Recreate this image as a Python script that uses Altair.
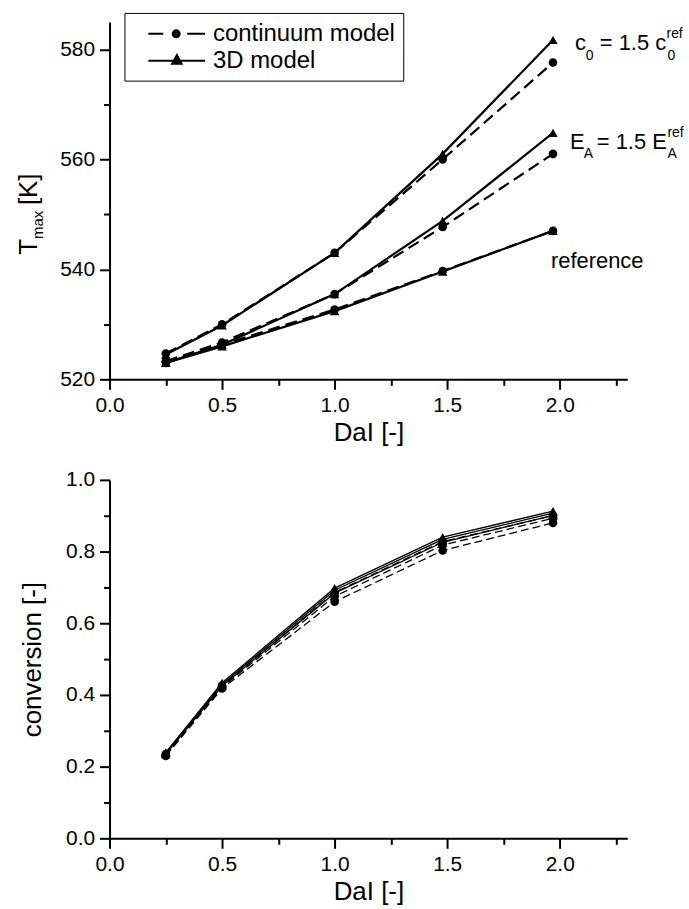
import altair as alt
import pandas as pd

FONT = "Liberation Sans"

# ---------------- data ----------------
dal = [0.25, 0.5, 1.0, 1.48, 1.97]
models = ["continuum model", "3D model"]
cases = ["reference", "EA", "c0"]

# T_max [K]
tmax_cont_ref = [523.0, 526.3, 532.7, 539.7, 547.0]
tmax_cont_ea = [523.3, 526.7, 535.5, 547.7, 561.0]
tmax_cont_c0 = [524.7, 530.0, 543.0, 560.0, 577.6]
tmax_3d_ref = [523.0, 526.0, 532.4, 539.6, 547.0]
tmax_3d_ea = [523.0, 526.3, 535.5, 548.8, 564.8]
tmax_3d_c0 = [524.5, 529.8, 543.0, 561.0, 581.7]

# conversion [-]
conv_cont_ref = [0.230, 0.418, 0.660, 0.803, 0.880]
conv_cont_ea = [0.232, 0.422, 0.675, 0.818, 0.893]
conv_cont_c0 = [0.235, 0.426, 0.686, 0.828, 0.900]
conv_3d_ref = [0.235, 0.425, 0.684, 0.826, 0.901]
conv_3d_ea = [0.238, 0.430, 0.692, 0.834, 0.907]
conv_3d_c0 = [0.240, 0.434, 0.698, 0.840, 0.913]

x_tick_values = [0.0, 0.25, 0.5, 0.75, 1.0, 1.25, 1.5, 1.75, 2.0, 2.25]
t_tick_values = [520, 530, 540, 550, 560, 570, 580]
c_tick_values = [0.0, 0.1, 0.2, 0.3, 0.4, 0.5, 0.6, 0.7, 0.8, 0.9, 1.0]


def long_frame(series):
    rows = []
    for case, model, values in series:
        for x, v in zip(dal, values):
            rows.append({"dal": x, "value": v, "model": model, "case": case})
    return pd.DataFrame(rows)


df_t = long_frame([
    ("reference", "continuum model", tmax_cont_ref),
    ("EA", "continuum model", tmax_cont_ea),
    ("c0", "continuum model", tmax_cont_c0),
    ("reference", "3D model", tmax_3d_ref),
    ("EA", "3D model", tmax_3d_ea),
    ("c0", "3D model", tmax_3d_c0),
])
df_c = long_frame([
    ("reference", "continuum model", conv_cont_ref),
    ("EA", "continuum model", conv_cont_ea),
    ("c0", "continuum model", conv_cont_c0),
    ("reference", "3D model", conv_3d_ref),
    ("EA", "3D model", conv_3d_ea),
    ("c0", "3D model", conv_3d_c0),
])

# ---------------- styling helpers ----------------
AX = dict(
    domainColor="black", domainWidth=2, tickColor="black", tickWidth=2,
    labelColor="black", labelFont=FONT, labelFontSize=21,
    titleFont=FONT, titleFontSize=26, titleFontWeight="normal",
    titleColor="black", grid=False, labelPadding=5,
    labelFlush=False, labelOverlap=False,
)

x_axis = alt.Axis(
    values=x_tick_values,
    labelExpr="datum.value % 0.5 == 0 ? format(datum.value, '.1f') : ''",
    tickSize={"condition": {"test": "datum.value % 0.5 == 0", "value": 10}, "value": 6},
    title="DaI [-]", titlePadding=4,
    **AX,
)
x_scale = alt.Scale(domain=[0, 2.3], nice=False, zero=False)

t_axis = alt.Axis(
    values=t_tick_values,
    labelExpr="datum.value % 20 == 0 ? datum.value : ''",
    tickSize={"condition": {"test": "datum.value % 20 == 0", "value": 10}, "value": 6},
    title=None,
    **AX,
)
t_scale = alt.Scale(domain=[520, 585], nice=False, zero=False)

c_axis = alt.Axis(
    values=c_tick_values,
    labelExpr="round(datum.value * 10) % 2 == 0 ? format(datum.value, '.1f') : ''",
    tickSize={"condition": {"test": "round(datum.value * 10) % 2 == 0", "value": 10}, "value": 6},
    title="conversion [-]", titlePadding=20,
    **AX,
)
c_scale = alt.Scale(domain=[0, 1], nice=False, zero=False)


# ---- legend symbols: short line with a marker (stroke-only paths, unit = 12 px) ----
def circle_path(cx, r):
    return (f"M{cx + r:.3f},0A{r:.3f},{r:.3f},0,1,1,{cx - r:.3f},0"
            f"A{r:.3f},{r:.3f},0,1,1,{cx + r:.3f},0Z")


def tri_path(cx, cy, k):
    hw, up, dn = 0.40 * k, 0.48 * k, 0.26 * k
    return (f"M{cx - hw:.3f},{cy + dn:.3f}L{cx:.3f},{cy - up:.3f}"
            f"L{cx + hw:.3f},{cy + dn:.3f}Z")


DOT_PATH = "M0.25,0H1.5M3.5,0H5.0" + "".join(
    circle_path(2.58, r / 12) for r in (0.6, 1.6, 2.6, 3.5))
TRI_PATH = "M0.25,0H5.0" + "".join(tri_path(2.64, 0.0, k) for k in (1.0, 0.66, 0.33))

legend = alt.Legend(
    title=None, orient="none", legendX=15, legendY=-9,
    strokeColor="black", padding=8, fillColor="white",
    labelFont=FONT, labelFontSize=24, labelColor="black", labelLimit=500,
    symbolSize=576, symbolStrokeWidth=2, symbolStrokeColor="black",
    symbolFillColor="black", symbolOpacity=1, labelOffset=55, rowPadding=2,
)

# ---------------- top chart ----------------
base_t = alt.Chart(df_t).encode(
    x=alt.X("dal:Q", scale=x_scale, axis=x_axis),
    y=alt.Y("value:Q", scale=t_scale, axis=t_axis),
    detail="case:N",
)
cont_t = base_t.transform_filter(alt.datum.model == "continuum model")
d3_t = base_t.transform_filter(alt.datum.model == "3D model")

# invisible layer that only carries the legend (line + marker symbols)
legend_layer = base_t.mark_point(filled=False, opacity=0, color="black").encode(
    shape=alt.Shape(
        "model:N",
        scale=alt.Scale(domain=models, range=[DOT_PATH, TRI_PATH]),
        legend=legend,
    ),
)

last_3d = d3_t.transform_filter(alt.datum.dal == 1.97)


def piece(case, text, dx, dy, size):
    return last_3d.transform_filter(alt.datum.case == case).mark_text(
        text=text, dx=dx, dy=dy, fontSize=size, font=FONT, color="black",
        align="left", baseline="alphabetic",
    )


ann = [
    piece("c0", "c", 22, 10, 22),
    piece("c0", "0", 33, 20, 14),
    piece("c0", "= 1.5 c", 47, 10, 22),
    piece("c0", "0", 115, 20, 14),
    piece("c0", "ref", 114, -2, 14),
    piece("EA", "E", 17, 16, 22),
    piece("EA", "A", 31, 25, 14),
    piece("EA", "= 1.5 E", 44, 16, 22),
    piece("EA", "A", 115, 25, 14),
    piece("EA", "ref", 115, 4, 14),
    piece("reference", "reference", -2, 37, 22),
]

title_df = pd.DataFrame({"k": [0]})


def ytitle(text, dx, dy, size):
    return alt.Chart(title_df).mark_text(
        text=text, angle=270, align="left", baseline="alphabetic",
        dx=dx, dy=dy, fontSize=size, font=FONT, color="black",
    ).encode(x=alt.value(-73), y=alt.value(234))


ytitles = [ytitle("T", 0, 0, 26), ytitle("max", 16, 6, 15), ytitle("[K]", 50, 0, 26)]

top = alt.layer(
    cont_t.mark_line(color="black", strokeWidth=2.2, strokeDash=[12, 6]),
    d3_t.mark_line(color="black", strokeWidth=2.2),
    cont_t.mark_point(filled=True, color="black", size=75, opacity=1, shape="circle"),
    d3_t.mark_point(filled=True, color="black", size=90, opacity=1, shape="triangle-up"),
    legend_layer,
    *ann,
    *ytitles,
).properties(width=520, height=359)

# ---------------- bottom chart ----------------
base_c = alt.Chart(df_c).encode(
    x=alt.X("dal:Q", scale=x_scale, axis=x_axis),
    y=alt.Y("value:Q", scale=c_scale, axis=c_axis),
    detail="case:N",
)
cont_c = base_c.transform_filter(alt.datum.model == "continuum model")
d3_c = base_c.transform_filter(alt.datum.model == "3D model")

bottom = alt.layer(
    cont_c.mark_line(color="black", strokeWidth=1.3, strokeDash=[8, 4]),
    d3_c.mark_line(color="black", strokeWidth=1.3),
    cont_c.mark_point(filled=True, color="black", size=75, opacity=1, shape="circle"),
    d3_c.mark_point(filled=True, color="black", size=90, opacity=1, shape="triangle-up"),
).properties(width=520, height=360)

chart = alt.vconcat(top, bottom, spacing=101, bounds="flush").properties(
    padding={"left": 16, "top": 10, "right": 5, "bottom": 2},
    background="white",
).configure_view(stroke=None)

chart.save("out.html", embed_options={"renderer": "svg", "actions": False})
